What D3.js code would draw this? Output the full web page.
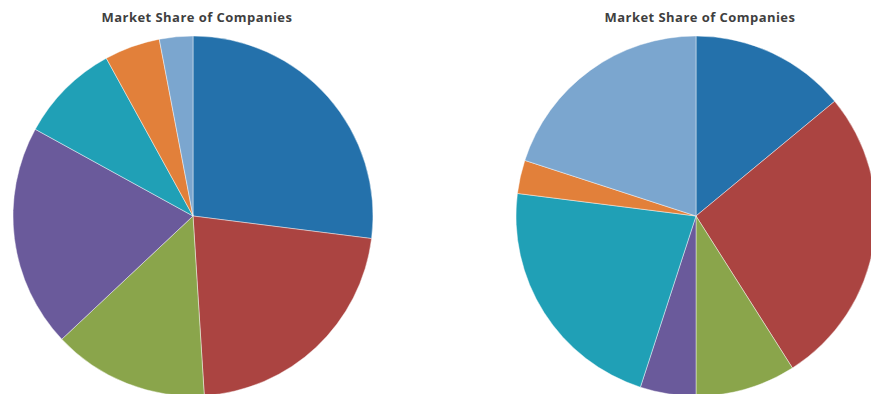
<!DOCTYPE html>
<html>
<head>
<meta charset="utf-8">
<script src="https://cdn.jsdelivr.net/npm/d3@7"></script>
<style>
  html, body { margin: 0; padding: 0; background: #fff; overflow: hidden; }
  svg { display: block; }
</style>
</head>
<body>
<svg id="chart" width="871" height="394"></svg>
<script>
// Company categories and their market share (%) in each pie
const companies = ["Company A", "Company B", "Company C", "Company D", "Company E", "Company F", "Company G"];
const sharesLeft  = [27, 22, 14, 20, 9, 5, 3];
const sharesRight = [14, 27, 9, 5, 22, 3, 20];
const colors = ["#2471AB", "#AB4441", "#8AA54B", "#6A5A9B", "#20A0B6", "#E2803A", "#7BA6CF"];
const chartTitle = "Market Share of Companies";

const svg = d3.select("#chart");
const color = d3.scaleOrdinal().domain(companies).range(colors);
const radius = 180;

const pie = d3.pie().sort(null).value(d => d.value);
const arc = d3.arc().innerRadius(0).outerRadius(radius);

function drawPie(values, cx, cy, titleX) {
  const data = companies.map((c, i) => ({ name: c, value: values[i] }));
  const g = svg.append("g").attr("transform", `translate(${cx},${cy})`);
  g.selectAll("path")
    .data(pie(data))
    .join("path")
    .attr("d", arc)
    .attr("fill", d => color(d.data.name))
    .attr("stroke", "rgba(255,255,255,0.55)")
    .attr("stroke-width", 0.8);

  svg.append("text")
    .attr("x", titleX)
    .attr("y", 22)
    .attr("text-anchor", "middle")
    .attr("font-family", "'Open Sans', 'Liberation Sans', sans-serif")
    .attr("font-weight", "bold")
    .attr("font-size", 13)
    .attr("letter-spacing", 0.45)
    .attr("fill", "#3f3f3f")
    .text(chartTitle);
}

drawPie(sharesLeft, 193, 216, 197);
drawPie(sharesRight, 696, 216, 700);
</script>
</body>
</html>
